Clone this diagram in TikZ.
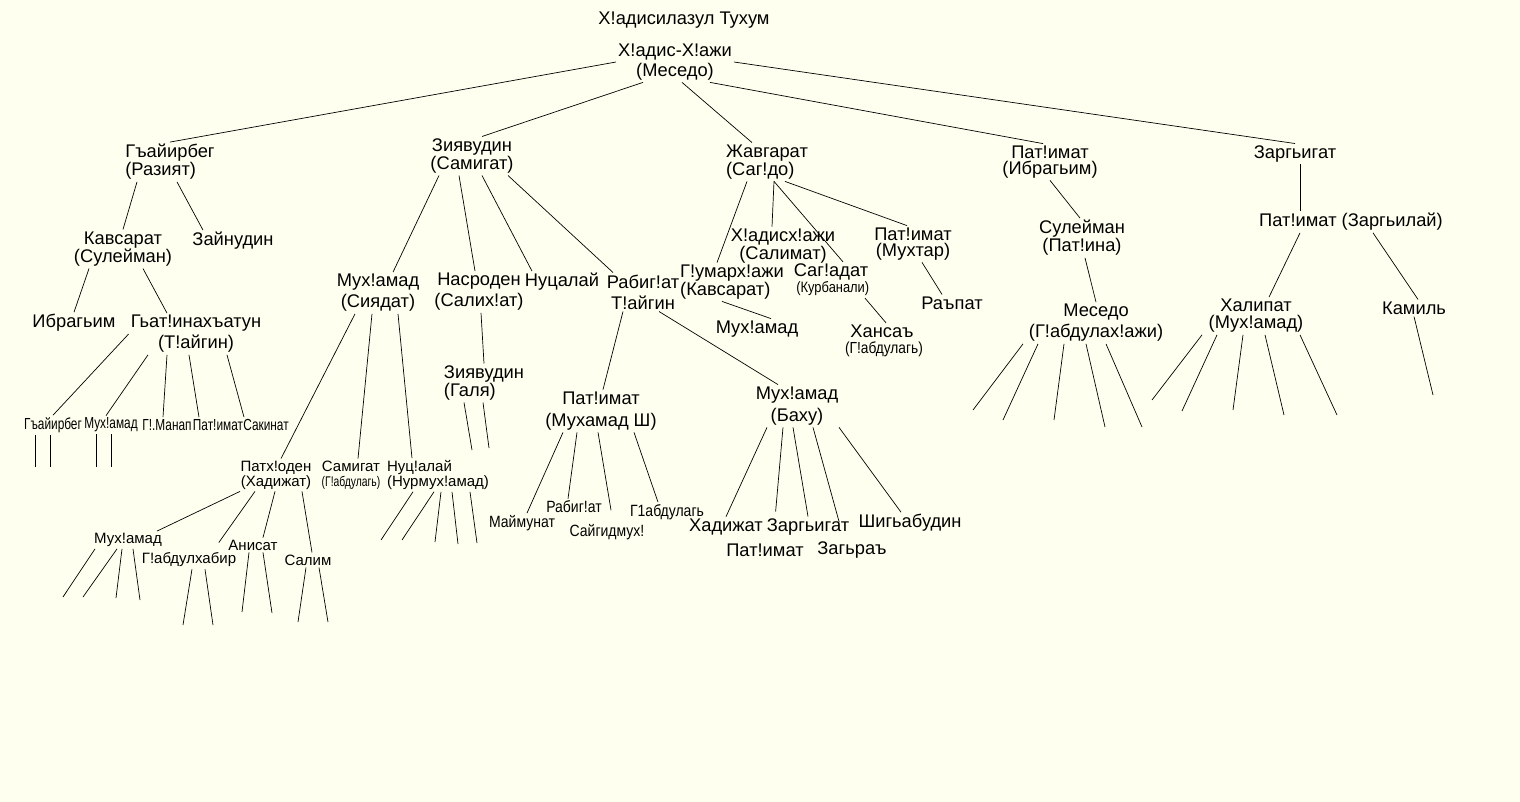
\documentclass[tikz,border=0pt]{standalone}
\usepackage{fontspec}
\setmainfont{Liberation Sans}
\newfontfamily\narrowfont[FakeStretch=0.74]{Liberation Sans}
\newfontfamily\semifont[FakeStretch=0.86]{Liberation Sans}
\definecolor{paper}{RGB}{255,255,240}

\begin{document}
\begin{tikzpicture}[x=1pt,y=-1pt]
		\tikzstyle{person}=[inner sep=2pt, font=\fontsize{18.3}{16}\selectfont]
		\tikzstyle{pair}=[person, align=center]
		\tikzstyle{pairl}=[person, align=center, font=\fontsize{18.3}{21}\selectfont]
		\tikzstyle{mid}=[inner sep=2pt, align=center, font=\fontsize{15}{15}\selectfont]
		\tikzstyle{narrow}=[inner sep=2pt, font=\narrowfont\fontsize{16}{16}\selectfont]
		\tikzstyle{semi}=[inner sep=2pt, font=\semifont\fontsize{16.3}{16}\selectfont]
		\tikzstyle{connect}=[line width=0.7pt]
		\newcommand{\tinyname}[1]{\semifont\fontsize{#1}{14}\selectfont}

		\fill[paper] (0,0) rectangle (1520,802);
		\useasboundingbox (0,0) rectangle (1520,802);

		\node[person]  (title) at (684,20)  {Х!адисилазул Тухум};
		\node[pair, font=\fontsize{18.3}{20}\selectfont] (root) at (675,62) {Х!адис-Х!ажи\\(Меседо)};

		\node[pair, align=left] (gay)  at (170,162) {Гъайирбег\\(Разият)};
		\node[pair]             (ziya) at (472,156) {Зиявудин\\(Самигат)};
		\node[pair, align=left] (jav)  at (767,162) {Жавгарат\\(Саг!до)};
		\node[pair]             (pat)  at (1050,162) {Пат!имат\\(Ибрагьим)};
		\node[person]           (zarg) at (1295,154) {Заргьигат};

		\node[pair]   (kav)  at (123,249) {Кавсарат\\(Сулейман)};
		\node[person] (zain) at (233,241) {Зайнудин};
		\node[person] (ibr)  at (74,323)  {Ибрагьим};
		\node[pairl]  (gat)  at (196,334) {Гьат!инахъатун\\(Т!айгин)};

		\node[narrow] (gay4) at (53,425)  {Гъайирбег};
		\node[narrow] (muh4) at (111,425) {Мух!амад};
		\node[narrow] (man4) at (167,425) {Г!.Манап};
		\node[narrow] (pat4) at (218,425) {Пат!имат};
		\node[narrow] (sak4) at (266,425) {Сакинат};

		\node[pairl]  (muh) at (378,293) {Мух!амад\\(Сиядат)};
		\node[pairl]  (nas) at (479,292) {Насроден\\(Салих!ат)};
		\node[person] (nuc) at (562,282) {Нуцалай};
		\node[pairl]  (rab) at (643,292) {Рабиг!ат\\Т!айгин};
		\node[pair, align=left] (galya) at (484,383) {Зиявудин\\(Галя)};

		\node[pairl, font=\fontsize{18.3}{22}\selectfont] (patsh) at (601,411) {Пат!имат\\(Мухамад Ш)};
		\node[pairl, font=\fontsize{18.3}{22}\selectfont] (bahu)  at (797,406) {Мух!амад\\(Баху)};
		\node[semi] (maym) at (522,523) {Маймунат};
		\node[semi] (rabg) at (574,507) {Рабиг!ат};
		\node[semi] (sayg) at (607,532) {Сайгидмух!};
		\node[semi] (gabd) at (667,512) {Г1абдулагь};
		\node[person] (hadj)  at (726,527) {Хадижат};
		\node[person] (patb)  at (765,550) {Пат!имат};
		\node[person] (zargb) at (808,527) {Заргьигат};
		\node[person] (zagr)  at (852,550) {Загьраъ};
		\node[person] (shig)  at (910,523) {Шигьабудин};

		\node[mid] (patx) at (276,475) {Патх!оден\\(Хадижат)};
		\node[mid] (sami) at (351,475) {Самигат\\{\narrowfont\fontsize{14}{14}\selectfont (Г!абдулагь)}};
		\node[mid, align=left] (nucl) at (438,475) {Нуц!алай\\(Нурмух!амад)};
		\node[mid] (muh5)  at (128,540) {Мух!амад};
		\node[mid] (gabh)  at (189,560) {Г!абдулхабир};
		\node[mid] (anis)  at (253,545) {Анисат};
		\node[mid] (salim) at (308,560) {Салим};

		\node[pair, align=left] (gum) at (732,282) {Г!умарх!ажи\\(Кавсарат)};
		\node[pair]   (hadh) at (783,246) {Х!адисх!ажи\\(Салимат)};
		\node[pair]   (sagd) at (831,280) {Саг!адат\\{\tinyname{15} (Курбанали)}};
		\node[pair]   (patm) at (913,244) {Пат!имат\\(Мухтар)};
		\node[person] (muhj) at (757,329) {Мух!амад};
		\node[pair]   (hans) at (882,341) {Хансаъ\\{\tinyname{16} (Г!абдулагь)}};
		\node[person] (raup) at (952,303) {Раъпат};

		\node[pair]   (sul)  at (1082,238) {Сулейман\\(Пат!ина)};
		\node[pairl]  (mes)  at (1096,323) {Меседо\\(Г!абдулах!ажи)};
		\node[person] (patz) at (1351,222) {Пат!имат (Заргьилай)};
		\node[pair, font=\fontsize{18.3}{17}\selectfont] (hal) at (1256,316) {Халипат\\(Мух!амад)};
		\node[person] (kam)  at (1414,308) {Камиль};

		\path
		(root.west) edge [connect] (gay.north)
		([xshift=-32]root.south) edge [connect] ([xshift=10]ziya.north)
		([xshift=7]root.south) edge [connect] ([xshift=-15]jav.north)
		([xshift=35]root.south) edge [connect] ([xshift=-7]pat.north)
		(root.east) edge [connect] (zarg.north)

		([xshift=-33]gay.south) edge [connect] (kav.north)
		([xshift=7]gay.south) edge [connect] ([xshift=-30]zain.north)
		([xshift=-34]kav.south) edge [connect] (ibr.north)
		([xshift=20]kav.south) edge [connect] ([xshift=-29]gat.north)

		(gat.west) edge [connect] (gay4.north)
		([xshift=-48]gat.south) edge [connect] ([xshift=-5]muh4.north)
		([xshift=-29]gat.south) edge [connect] ([xshift=-4]man4.north)
		([xshift=-7]gat.south) edge [connect] ([xshift=-19]pat4.north)
		([xshift=31]gat.south) edge [connect] ([xshift=-22]sak4.north)

		([xshift=-33]ziya.south) edge [connect] ([xshift=15]muh.north)
		([xshift=-13]ziya.south) edge [connect] ([xshift=-4]nas.north)
		([xshift=10]ziya.south) edge [connect] ([xshift=-30]nuc.north)
		([xshift=36]ziya.south) edge [connect] ([xshift=-30]rab.north)

		([xshift=-23]muh.south) edge [connect] ([xshift=5]patx.north)
		([xshift=-6]muh.south) edge [connect] ([xshift=7]sami.north)
		([xshift=20]muh.south) edge [connect] ([xshift=-26]nucl.north)
		([xshift=2]nas.south) edge [connect] (galya.north)

		([xshift=-20]rab.south) edge [connect] ([xshift=2]patsh.north)
		([xshift=16]rab.south) edge [connect] ([xshift=-19]bahu.north)

		([xshift=-38]patsh.south) edge [connect] ([xshift=5]maym.north)
		([xshift=-24]patsh.south) edge [connect] ([xshift=-6]rabg.north)
		([xshift=-3]patsh.south) edge [connect, shorten >=12pt] ([xshift=6]sayg.north)
		([xshift=33]patsh.south) edge [connect] ([xshift=-9]gabd.north)

		([xshift=-30]bahu.south) edge [connect] (hadj.north)
		([xshift=-14]bahu.south) edge [connect, shorten >=30pt] ([xshift=8]patb.north)
		([xshift=-4]bahu.south) edge [connect] (zargb.north)
		([xshift=16]bahu.south) edge [connect, shorten >=18pt] ([xshift=-8]zagr.north)
		([xshift=42]bahu.south) edge [connect] ([xshift=-9]shig.north)

		([xshift=-36]patx.south) edge [connect] ([xshift=29]muh5.north)
		([xshift=-21]patx.south) edge [connect, shorten >=10pt] ([xshift=24]gabh.north)
		([xshift=-1]patx.south) edge [connect] ([xshift=10]anis.north)
		([xshift=26]patx.south) edge [connect] ([xshift=4]salim.north)

		([xshift=-20]jav.south) edge [connect] ([xshift=-15]gum.north)
		([xshift=7]jav.south) edge [connect] ([xshift=-11]hadh.north)
		([xshift=7]jav.south) edge [connect] ([xshift=12]sagd.north)
		([xshift=18]jav.south) edge [connect] ([xshift=-6]patm.north)
		([xshift=-10]gum.south) edge [connect] ([xshift=14]muhj.north)
		([xshift=34]sagd.south) edge [connect] ([xshift=4]hans.north)
		([xshift=9]patm.south) edge [connect] ([xshift=-10]raup.north)

		(pat.south) edge [connect] ([xshift=-2]sul.north)
		([xshift=3]sul.south) edge [connect] (mes.north)
		([xshift=5]zarg.south) edge [connect] ([xshift=-51]patz.north)
		([xshift=-51]patz.south) edge [connect] ([xshift=13]hal.north)
		([xshift=22]patz.south) edge [connect] ([xshift=4]kam.north)
		;

		\foreach \p/\s/\x/\y [count=\i] in {
			gay4/-18/35/467, gay4/-3/50/467, muh4/-15/96/467, muh4/0/111/467,
			galya/-20/472/450, galya/-1/489/448,
			muh5/-33/63/597, muh5/-11/83/597, muh5/-6/116/598, muh5/5/140/600,
			gabh/3/183/625, gabh/16/213/625,
			anis/-4/242/612, anis/10/272/613,
			salim/-2/298/622, salim/11/328/622,
			nucl/-25/381/540, nucl/-4/402/540, nucl/3/435/542, nucl/14/458/544, nucl/32/477/543,
			mes/-73/973/410, mes/-58/1003/420, mes/-32/1054/420, mes/-10/1105/427, mes/10/1142/427,
			hal/-54/1152/400, hal/-39/1182/411, hal/-13/1233/410, hal/9/1284/415, hal/44/1337/415,
			kam/0/1433/395}
		{
			\coordinate (leaf\i) at (\x,\y);
			\draw[connect] ([xshift=\s]\p.south) -- (leaf\i);
		}
\end{tikzpicture}
\end{document}
